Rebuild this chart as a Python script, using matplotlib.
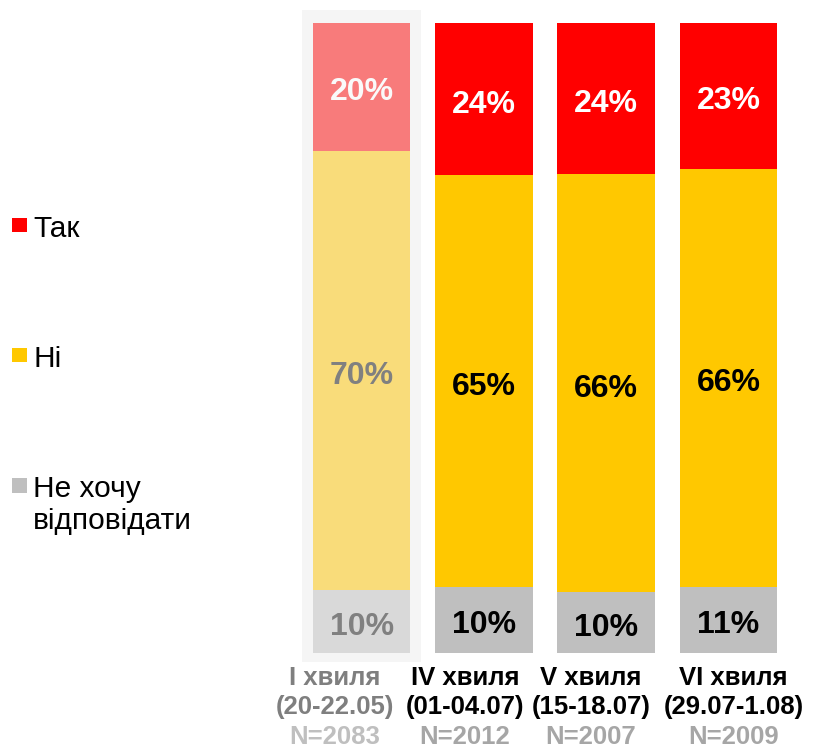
import matplotlib
matplotlib.use('Agg')
import matplotlib.pyplot as plt
from matplotlib.patches import Rectangle
import numpy as np

plt.rcParams['font.family'] = ['Liberation Sans', 'DejaVu Sans']

# Survey waves and shares (percent)
waves = ['I хвиля', 'IV хвиля', 'V хвиля', 'VI хвиля']
dates = ['(20-22.05)', '(01-04.07)', '(15-18.07)', '(29.07-1.08)']
sizes = ['N=2083', 'N=2012', 'N=2007', 'N=2009']
yes_vals = [20.3, 24.2, 24.0, 23.2]
no_vals = [69.7, 65.3, 66.4, 66.3]
na_vals = [10.0, 10.5, 9.6, 10.5]

# printed labels as shown on the chart
yes_labels = ['20%', '24%', '24%', '23%']
no_labels = ['70%', '65%', '66%', '66%']
na_labels = ['10%', '10%', '10%', '11%']

legend_labels = ['Так', 'Ні', 'Не хочу\nвідповідати']

# colours: normal and faded (first wave)
red, yellow, grey = '#FF0000', '#FFC800', '#BFBFBF'
red_f, yellow_f, grey_f = '#F87B7B', '#F9DC7A', '#D9D9D9'

# category labels are not exactly centred under the bars (offset in points)
lab_shift = [-19.4, -13.5, -10.9, 3.7]

fig = plt.figure(figsize=(8.13, 7.54), dpi=100)
W, H = 813, 754
ax = fig.add_axes([288.2 / W, (H - 653) / H, (801.8 - 288.2) / W, (653 - 22.7) / H])
ax.set_xlim(-0.6, 3.6)
ax.set_ylim(0, 100)
ax.axis('off')

x = np.arange(len(waves))
width = 0.80

na_h = np.array(na_vals)
no_h = np.array(no_vals)
yes_h = np.array(yes_vals)

# highlight box behind first wave
ax.add_patch(Rectangle((x[0] - width / 2 - 0.09, -1.4), width + 0.18, 103.4,
                       facecolor='#F5F5F5', edgecolor='none', clip_on=False, zorder=0))

def seg_label(i, y, txt, col):
    ax.annotate(txt, (i, y), xytext=(0, -1.5), textcoords='offset points',
                ha='center', va='center_baseline', fontsize=23, fontweight='bold',
                color=col, zorder=3)

for i in x:
    first = i == 0
    cols = (grey_f, yellow_f, red_f) if first else (grey, yellow, red)
    ax.bar(i, na_h[i], width, color=cols[0], zorder=2)
    ax.bar(i, no_h[i], width, bottom=na_h[i], color=cols[1], zorder=2)
    ax.bar(i, yes_h[i], width, bottom=na_h[i] + no_h[i], color=cols[2], zorder=2)

    tcols = ('#808080', '#808080', '#FAFAFA') if first else ('black', 'black', 'white')
    seg_label(i, na_h[i] / 2, na_labels[i], tcols[0])
    seg_label(i, na_h[i] + no_h[i] / 2, no_labels[i], tcols[1])
    seg_label(i, na_h[i] + no_h[i] + yes_h[i] / 2, yes_labels[i], tcols[2])

    # category labels under bars
    c1 = '#7F7F7F' if first else 'black'
    c3 = '#BFBFBF' if first else '#A6A6A6'
    dx = lab_shift[i]
    ax.annotate(waves[i], (i, 0), xytext=(dx, -22.8), textcoords='offset points',
                ha='center', va='baseline', fontsize=18.5, fontweight='bold', color=c1)
    ax.annotate(dates[i], (i, 0), xytext=(dx, -43.9), textcoords='offset points',
                ha='center', va='baseline', fontsize=18.5, fontweight='bold', color=c1)
    ax.annotate(sizes[i], (i, 0), xytext=(dx, -65.3), textcoords='offset points',
                ha='center', va='baseline', fontsize=18.5, fontweight='bold', color=c3)

# legend drawn by hand, spread down the left side
leg_base = [236.7, 366.7, 497]
leg_sq = [225, 355.3, 485.5]
for lab, col, yb, ys in zip(legend_labels, [red, yellow, grey], leg_base, leg_sq):
    fig.add_artist(Rectangle((12.4 / W, (H - ys - 7.2) / H), 14.4 / W, 14.4 / H,
                             facecolor=col, edgecolor='none', transform=fig.transFigure))
    for k, line in enumerate(lab.split('\n')):
        fig.text(33 / W, (H - yb - 31.6 * k) / H, line, ha='left', va='baseline',
                 fontsize=21.5)

fig.savefig('out.png', dpi=100)
